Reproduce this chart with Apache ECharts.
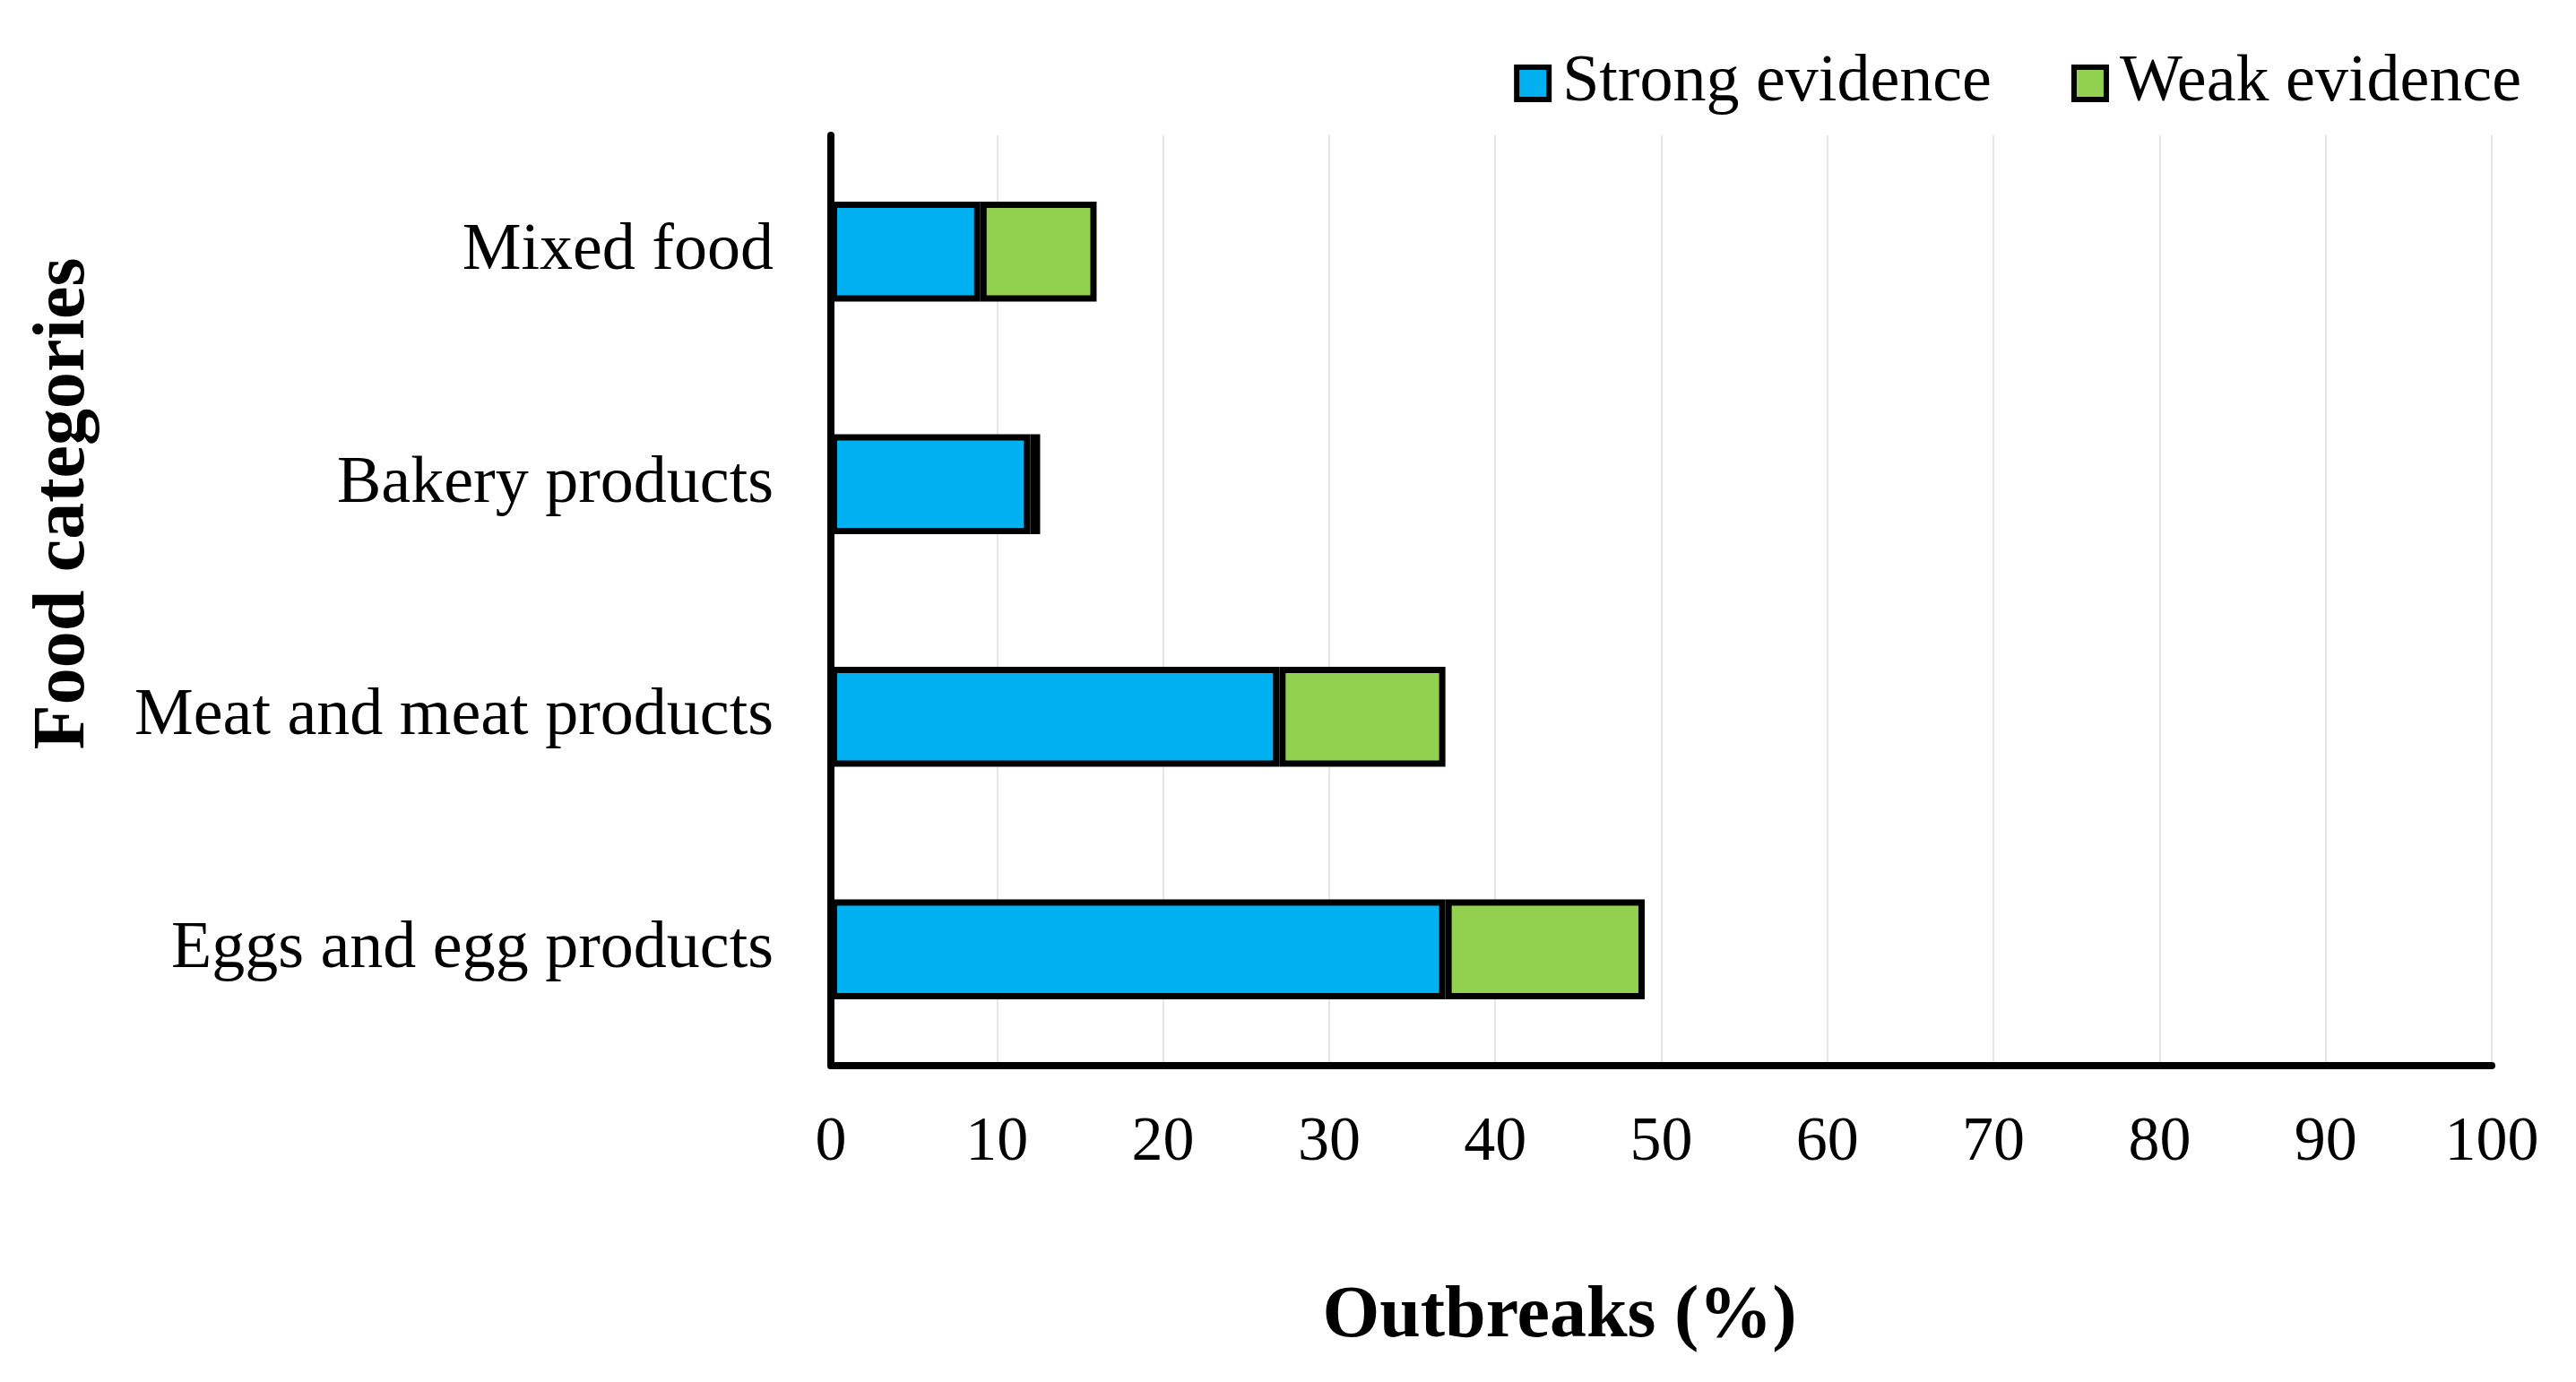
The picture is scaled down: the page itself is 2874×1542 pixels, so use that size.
<!DOCTYPE html>
<html>
<head>
<meta charset="utf-8">
<script src="https://cdn.jsdelivr.net/npm/echarts@6/dist/echarts.min.js"></script>
<style>
html,body{margin:0;padding:0;background:#fff;}
#chart{width:2874px;height:1542px;}
</style>
</head>
<body>
<div id="chart"></div>
<script>
const categories = ['Eggs and egg products', 'Meat and meat products', 'Bakery products', 'Mixed food'];
const strongEvidence = [37, 27, 12, 9];
const weakEvidence = [12, 10, 0.6, 7];
const xTicks = [0, 10, 20, 30, 40, 50, 60, 70, 80, 90, 100];
const xAxisTitle = 'Outbreaks (%)';
const yAxisTitle = 'Food categories';

const FONT = 'Liberation Serif';
const chart = echarts.init(document.getElementById('chart'));
chart.setOption({
  backgroundColor: '#ffffff',
  animation: false,
  textStyle: { fontFamily: FONT, color: '#000' },
  grid: { left: 927, right: 94, top: 151, bottom: 353, containLabel: false },
  legend: {
    data: ['Strong evidence', 'Weak evidence'],
    right: 56,
    top: 51,
    icon: 'rect',
    itemWidth: 36,
    itemHeight: 36,
    itemGap: 89,
    itemStyle: { borderColor: '#000', borderWidth: 6 },
    textStyle: { fontFamily: FONT, fontSize: 74, color: '#000', padding: [0, 0, 0, 10] }
  },
  xAxis: {
    type: 'value',
    min: xTicks[0],
    max: xTicks[xTicks.length - 1],
    interval: 10,
    axisLine: { show: true, lineStyle: { color: '#000', width: 8 } },
    axisTick: { show: false },
    axisLabel: { fontFamily: FONT, fontSize: 70, color: '#000', margin: 52 },
    splitLine: { show: true, lineStyle: { color: '#e6e6e6', width: 2 } }
  },
  yAxis: {
    type: 'category',
    data: categories,
    axisLine: { show: true, lineStyle: { color: '#000', width: 8 } },
    axisTick: { show: false },
    axisLabel: { fontFamily: FONT, fontSize: 74, color: '#000', margin: 64 },
    splitLine: { show: false }
  },
  series: [
    {
      name: 'Strong evidence',
      type: 'bar',
      stack: 'total',
      data: strongEvidence,
      barWidth: '43%',
      itemStyle: { color: '#00B0F0', borderColor: '#000', borderWidth: 7 }
    },
    {
      name: 'Weak evidence',
      type: 'bar',
      stack: 'total',
      data: weakEvidence,
      barWidth: '43%',
      itemStyle: { color: '#92D050', borderColor: '#000', borderWidth: 7 }
    }
  ],
  graphic: [
    {
      type: 'text',
      x: 1740,
      y: 1470,
      style: { text: xAxisTitle, font: 'bold 82px "Liberation Serif"', fill: '#000', align: 'center', verticalAlign: 'middle' }
    },
    {
      type: 'text',
      x: 72,
      y: 562,
      rotation: Math.PI / 2,
      style: { text: yAxisTitle, font: 'bold 82px "Liberation Serif"', fill: '#000', align: 'center', verticalAlign: 'middle' }
    }
  ]
});
</script>
</body>
</html>
